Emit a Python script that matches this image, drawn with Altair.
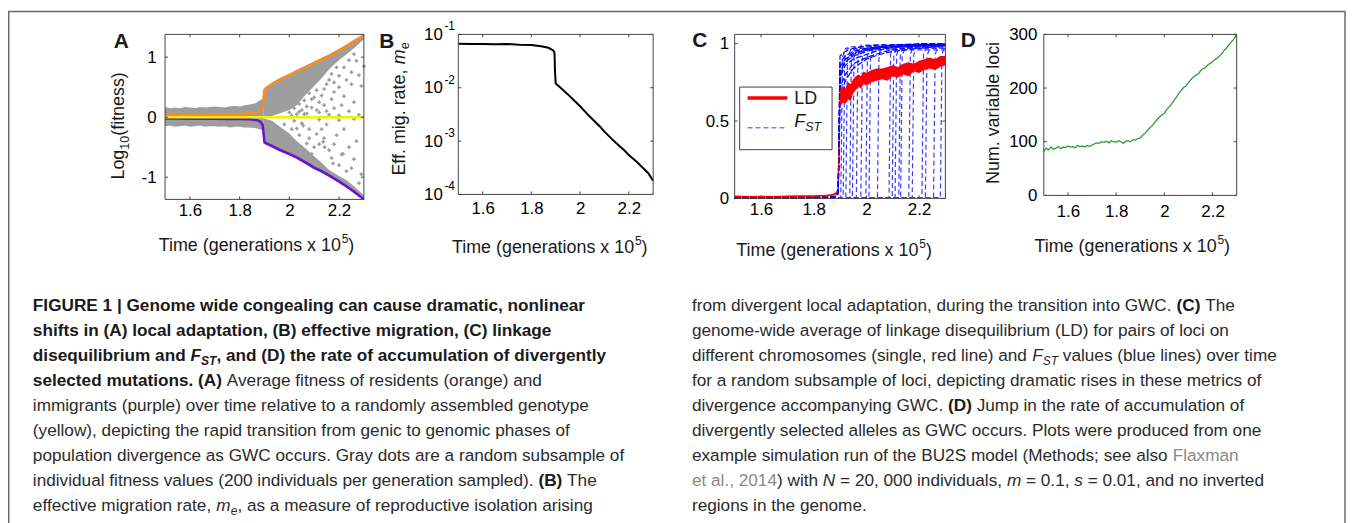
import altair as alt
import pandas as pd

FONT = "Liberation Sans"
W, H = 1347, 515
OFF = 8
TXT = "#1a1a1a"
TXT_R = "#2b2b2b"
FRAME = "#444444"

# ---------------- panel geometry (page px) ----------------
PA = dict(x0=166, x1=366, y0=33, y1=199)
PB = dict(x0=461, x1=657, y0=33, y1=194)
PC = dict(x0=739, x1=951, y0=33, y1=198)
PD = dict(x0=1050, x1=1244, y0=33, y1=195)

T_DOMAIN = [1.5, 2.3]
X_TICKS = [1.6, 1.8, 2.0, 2.2]

# ---------------- data: panel A ----------------
A_DOM = [-1.37, 1.38]
A_YTICKS = [-1, 0, 1]
A_LINE_T = [1.50, 1.55, 1.60, 1.65, 1.70, 1.75, 1.80, 1.84, 1.87, 1.885, 1.893, 1.897, 1.90,
            1.93, 1.96, 2.00, 2.03, 2.06, 2.10, 2.13, 2.16, 2.20, 2.23, 2.26, 2.30]
A_ORANGE = [0.03, 0.035, 0.03, 0.035, 0.04, 0.04, 0.05, 0.06, 0.08, 0.11, 0.16, 0.35, 0.46,
            0.55, 0.62, 0.70, 0.76, 0.82, 0.90, 0.96, 1.02, 1.11, 1.18, 1.26, 1.37]
A_PURPLE = [-0.02, -0.02, -0.025, -0.02, -0.025, -0.03, -0.03, -0.035, -0.05, -0.08, -0.13, -0.30, -0.42,
            -0.48, -0.54, -0.61, -0.67, -0.74, -0.84, -0.90, -0.97, -1.07, -1.15, -1.24, -1.37]
A_YELLOW_T = [1.50, 2.30]
A_YELLOW = [0.0, 0.0]
A_BAND_T = [1.50, 1.52, 1.54, 1.56, 1.58, 1.60, 1.62, 1.64, 1.66, 1.68, 1.70, 1.72, 1.74, 1.76,
            1.78, 1.80, 1.82, 1.84, 1.86, 1.87, 1.88, 1.89, 1.897]
A_BAND_HI = [0.17, 0.15, 0.16, 0.15, 0.17, 0.16, 0.15, 0.17, 0.16, 0.17, 0.18, 0.17, 0.16, 0.18,
             0.19, 0.18, 0.20, 0.21, 0.23, 0.25, 0.28, 0.30, 0.32]
A_BAND_LO = [-0.15, -0.14, -0.16, -0.15, -0.14, -0.16, -0.15, -0.14, -0.16, -0.15, -0.15, -0.16, -0.15, -0.17,
             -0.16, -0.16, -0.17, -0.17, -0.18, -0.19, -0.20, -0.21, -0.22]
A_WEDGE_T = [1.897, 1.90, 1.93, 1.96, 2.00, 2.03, 2.06, 2.10, 2.13, 2.16, 2.20, 2.23, 2.26, 2.30]
A_UP_HI = [0.40, 0.49, 0.58, 0.65, 0.73, 0.79, 0.85, 0.93, 0.99, 1.05, 1.14, 1.21, 1.29, 1.38]
A_UP_LO = [0.0, 0.0, 0.02, 0.06, 0.12, 0.20, 0.35, 0.52, 0.65, 0.80, 0.95, 1.05, 1.15, 1.30]
A_DN_HI = [0.0, -0.02, -0.06, -0.15, -0.27, -0.40, -0.50, -0.65, -0.76, -0.88, -0.98, -1.05, -1.15, -1.30]
A_DN_LO = [-0.36, -0.45, -0.51, -0.57, -0.64, -0.70, -0.77, -0.87, -0.93, -1.00, -1.10, -1.18, -1.27, -1.38]
A_DOT_T = [2.00, 2.02, 2.03, 2.04, 2.05, 2.06, 2.07, 2.08, 2.09, 2.10, 2.11, 2.12, 2.13, 2.14, 2.15,
           2.16, 2.17, 2.18, 2.19, 2.20, 2.22, 2.24, 2.25, 2.27, 2.29, 2.21, 2.15, 2.26, 2.06, 2.11,
           2.01, 2.04, 2.07, 2.09, 2.12, 2.14, 2.17, 2.18, 2.20, 2.23, 2.25, 2.28, 2.30, 2.22, 2.26,
           2.18, 2.24, 2.28, 2.16, 2.20,
           1.98, 2.01, 2.03, 2.04, 2.056, 2.07, 2.08, 2.09, 2.10, 2.12, 2.136, 2.142, 2.16, 2.17,
           2.176, 2.20, 2.216, 2.23, 2.25, 2.28, 2.13, 2.19, 2.24,
           2.02, 2.05, 2.08, 2.11, 2.14, 2.15, 2.18, 2.21, 2.22, 2.26, 2.27, 2.29, 2.20, 2.26, 2.12]
A_DOT_V = [0.08, 0.15, 0.05, 0.22, 0.12, 0.28, 0.18, 0.40, 0.30, 0.33, 0.45, 0.25, 0.36, 0.47, 0.55,
           0.62, 0.72, 0.58, 0.83, 0.69, 0.83, 0.95, 0.75, 0.94, 0.52, 0.20, 0.10, 1.05, 0.05, 0.12,
           0.03, 0.09, 0.06, 0.16, 0.08, 0.20, 0.30, 0.42, 0.50, 0.62, 0.55, 0.70, 0.85, 0.35, 0.25,
           0.15, 0.10, 0.04, 0.04, 0.03,
           -0.12, -0.20, -0.19, -0.30, -0.14, -0.44, -0.35, -0.61, -0.50, -0.45, -0.41, -0.50, -0.55, -0.68,
           -0.77, -0.80, -0.61, -0.90, -0.85, -1.10, -0.20, -0.30, -0.50,
           -0.06, -0.10, -0.20, -0.28, -0.35, -0.12, -0.45, -0.62, -0.20, -0.70, -0.40, -0.95, -0.05, -0.03, -0.04]

# ---------------- data: panel B ----------------
B_DOM = [1e-4, 1e-1]
B_YTICKS = [1e-4, 1e-3, 1e-2, 1e-1]
B_EXP = ["-4", "-3", "-2", "-1"]
B_T = [1.50, 1.55, 1.60, 1.65, 1.70, 1.75, 1.80, 1.84, 1.87, 1.89, 1.895, 1.897, 1.90, 1.92, 1.95,
       1.98, 2.00, 2.03, 2.05, 2.08, 2.10, 2.13, 2.15, 2.18, 2.20, 2.23, 2.25, 2.28, 2.30]
B_ME = [0.067, 0.066, 0.066, 0.065, 0.066, 0.064, 0.063, 0.060, 0.056, 0.050, 0.045, 0.020, 0.012, 0.010, 0.0075,
        0.0055, 0.0045, 0.0032, 0.0026, 0.0019, 0.0015, 0.0011, 0.0009, 0.00068, 0.00055, 0.00042, 0.00034,
        0.00025, 0.00018]

# ---------------- data: panel C ----------------
C_DOM = [0.0, 1.06]
C_YTICKS = [0, 0.5, 1]
C_LD_T = [1.50, 1.55, 1.60, 1.65, 1.70, 1.75, 1.80, 1.85, 1.87, 1.88, 1.89, 1.895, 1.90, 1.91, 1.92,
          1.93, 1.94, 1.95, 1.96, 1.97, 1.98, 1.99, 2.00, 2.02, 2.04, 2.06, 2.08, 2.10, 2.12, 2.14,
          2.16, 2.18, 2.20, 2.22, 2.24, 2.26, 2.28, 2.30]
C_LD_LO = [0.008, 0.007, 0.008, 0.007, 0.008, 0.009, 0.010, 0.012, 0.015, 0.020, 0.030, 0.20, 0.60, 0.62, 0.61,
           0.64, 0.63, 0.68, 0.70, 0.72, 0.71, 0.74, 0.73, 0.75, 0.76, 0.77, 0.76, 0.79, 0.78, 0.80,
           0.79, 0.82, 0.81, 0.83, 0.84, 0.83, 0.85, 0.86]
C_LD_HI = [0.018, 0.016, 0.017, 0.016, 0.018, 0.020, 0.021, 0.024, 0.028, 0.035, 0.05, 0.35, 0.70, 0.72, 0.71,
           0.75, 0.74, 0.77, 0.79, 0.80, 0.79, 0.82, 0.81, 0.83, 0.84, 0.84, 0.85, 0.86, 0.85, 0.87,
           0.88, 0.87, 0.89, 0.90, 0.91, 0.90, 0.92, 0.92]
C_EARLY_T = [1.50, 1.70, 1.88, 1.893, 1.897, 1.90, 1.92, 1.95, 2.00, 2.05, 2.10, 2.20, 2.30]
C_EARLY = [
    [0.004, 0.005, 0.008, 0.05, 0.50, 0.88, 0.92, 0.95, 0.97, 0.98, 0.99, 0.995, 0.995],
    [0.003, 0.004, 0.006, 0.04, 0.45, 0.82, 0.88, 0.92, 0.95, 0.97, 0.98, 0.99, 0.99],
    [0.005, 0.006, 0.010, 0.06, 0.40, 0.78, 0.86, 0.90, 0.93, 0.96, 0.975, 0.985, 0.99],
    [0.004, 0.005, 0.007, 0.05, 0.55, 0.92, 0.95, 0.97, 0.985, 0.99, 0.99, 1.0, 1.0],
    [0.003, 0.004, 0.006, 0.03, 0.50, 0.85, 0.90, 0.94, 0.96, 0.975, 0.98, 0.99, 0.99],
    [0.006, 0.007, 0.010, 0.05, 0.35, 0.72, 0.80, 0.87, 0.91, 0.94, 0.96, 0.98, 0.99],
    [0.004, 0.005, 0.008, 0.04, 0.45, 0.80, 0.90, 0.93, 0.96, 0.975, 0.985, 0.99, 0.995],
    [0.003, 0.004, 0.007, 0.03, 0.30, 0.65, 0.76, 0.84, 0.90, 0.93, 0.95, 0.97, 0.985],
]
C_LATE_JUMP = [1.906, 1.915, 1.925, 1.940, 1.950, 1.965, 1.982, 2.001, 2.013, 2.045, 2.089,
               2.101, 2.112, 2.126, 2.133, 2.164, 2.177, 2.214, 2.227, 2.258, 2.284]
C_LATE_TOP = [0.97, 0.98, 0.96, 0.98, 0.97, 0.99, 0.98, 0.99, 0.98, 0.99, 0.99,
              0.98, 0.99, 0.99, 0.98, 0.99, 0.99, 0.99, 0.98, 0.99, 0.99]

# ---------------- data: panel D ----------------
D_DOM = [0, 300]
D_YTICKS = [0, 100, 200, 300]
D_T = [1.50, 1.51, 1.52, 1.53, 1.54, 1.55, 1.56, 1.57, 1.58, 1.59,
       1.60, 1.61, 1.62, 1.63, 1.64, 1.65, 1.66, 1.67, 1.68, 1.69,
       1.70, 1.71, 1.72, 1.73, 1.74, 1.75, 1.76, 1.77, 1.78, 1.79,
       1.80, 1.81, 1.82, 1.83, 1.84, 1.85, 1.86, 1.87, 1.88, 1.89,
       1.90, 1.91, 1.92, 1.93, 1.94, 1.95, 1.96, 1.97, 1.98, 1.99,
       2.00, 2.01, 2.02, 2.03, 2.04, 2.05, 2.06, 2.07, 2.08, 2.09,
       2.10, 2.11, 2.12, 2.13, 2.14, 2.15, 2.16, 2.17, 2.18, 2.19,
       2.20, 2.21, 2.22, 2.23, 2.24, 2.25, 2.26, 2.27, 2.28, 2.29, 2.30]
D_V = [82, 88, 85, 90, 86, 88, 91, 87, 90, 89,
       92, 90, 91, 89, 93, 91, 92, 90, 93, 91,
       94, 96, 98, 97, 100, 99, 101, 98, 102, 100,
       99, 102, 100, 97, 101, 102, 100, 104, 103, 106,
       107, 112, 116, 121, 126, 130, 136, 141, 146, 150,
       153, 160, 165, 170, 177, 183, 190, 196, 201, 204,
       210, 216, 220, 224, 226, 232, 236, 238, 243, 246,
       249, 253, 256, 260, 265, 271, 276, 282, 287, 292, 300]

# ---------------- text metrics (Arial / Liberation Sans, 1/1000 em) ----------------
REG = {' ': 278, '!': 278, "'": 191, '(': 333, ')': 333, ',': 278, '-': 333, '.': 278, '/': 278,
       ':': 278, ';': 278, '=': 584, '|': 260, '?': 556}
BOLD = {' ': 278, '(': 333, ')': 333, ',': 278, '-': 333, '.': 278, ':': 333, ';': 333, '=': 584, '|': 280}
for d in '0123456789':
    REG[d] = 556
    BOLD[d] = 556
UP = dict(A=667, B=667, C=722, D=722, E=667, F=611, G=778, H=722, I=278, J=500, K=667, L=556, M=833,
          N=722, O=778, P=667, Q=778, R=722, S=667, T=611, U=722, V=667, W=944, X=667, Y=667, Z=611)
UPB = dict(UP, A=722, B=722, J=556, K=722, L=611)
LOW = dict(a=556, b=556, c=500, d=556, e=556, f=278, g=556, h=556, i=222, j=222, k=500, l=222, m=833,
           n=556, o=556, p=556, q=556, r=333, s=500, t=278, u=556, v=500, w=722, x=500, y=500, z=500)
LOWB = dict(a=556, b=611, c=556, d=611, e=556, f=333, g=611, h=611, i=278, j=278, k=556, l=278, m=889,
            n=611, o=611, p=611, q=611, r=389, s=556, t=333, u=611, v=556, w=778, x=556, y=556, z=500)
REG.update(UP); REG.update(LOW)
BOLD.update(UPB); BOLD.update(LOWB)


def tw(s, bold, size):
    tb = BOLD if bold else REG
    return sum(tb.get(c, 556) for c in s) * size / 1000.0


STYLES = {
    'r': dict(bold=False, italic=False, scale=1.0, dy=0.0),
    'b': dict(bold=True, italic=False, scale=1.0, dy=0.0, color=TXT),
    'i': dict(bold=False, italic=True, scale=1.0, dy=0.0),
    'bi': dict(bold=True, italic=True, scale=1.0, dy=0.0, color=TXT),
    'sub': dict(bold=False, italic=False, scale=0.7, dy=0.3),
    'isub': dict(bold=False, italic=True, scale=0.7, dy=0.3),
    'bisub': dict(bold=True, italic=True, scale=0.7, dy=0.3, color=TXT),
    'sup': dict(bold=False, italic=False, scale=0.67, dy=-0.42),
    'g': dict(bold=False, italic=False, scale=1.0, dy=0.0, color="#8a8a8a"),
}


def lay(segs, x, y, size, angle=0, anchor='left', color=TXT):
    items, cur = [], 0.0
    for st, s in segs:
        S = STYLES[st]
        fs = size * S['scale']
        lead = len(s) - len(s.lstrip(' '))
        items.append((cur + lead * tw(' ', S['bold'], fs), S, s.strip(), fs))
        cur += tw(s, S['bold'], fs)
    total = cur
    rows = []
    for off, S, s, fs in items:
        if not s:
            continue
        if angle == 0:
            start = x - total / 2 if anchor == 'center' else x
            px, py = start + off, y + S['dy'] * size
        else:
            base = y + total / 2 if anchor == 'center' else y
            px, py = x + S['dy'] * size, base - off
        rows.append(dict(x=px - OFF, y=py - OFF, text=s, fs=fs, bold=S['bold'], italic=S['italic'],
                         angle=angle, col=S.get('color', color)))
    return rows


def text_layers(rows):
    df = pd.DataFrame(rows)
    out = []
    for (bold, italic, angle), g in df.groupby(['bold', 'italic', 'angle']):
        mk = dict(font=FONT, align='left', baseline='middle',
                  fontWeight='bold' if bold else 'normal',
                  fontStyle='italic' if italic else 'normal')
        if angle:
            mk['angle'] = int(angle)
        out.append(alt.Chart(g.reset_index(drop=True)).mark_text(**mk).encode(
            x=alt.X('x:Q', scale=None, axis=None),
            y=alt.Y('y:Q', scale=None, axis=None),
            text='text:N',
            size=alt.Size('fs:Q', scale=None, legend=None),
            color=alt.Color('col:N', scale=None, legend=None)))
    return out


# ---------------- scale helpers ----------------
def X(p, field='t', axis=None):
    return alt.X(f'{field}:Q', axis=axis,
                 scale=alt.Scale(domain=T_DOMAIN, range=[p['x0'] - OFF, p['x1'] - OFF], nice=False, zero=False))


def Y(p, dom, field='v', log=False, axis=None):
    rng = [p['y1'] - OFF, p['y0'] - OFF]
    if log:
        sc = alt.Scale(type='log', domain=dom, range=rng, nice=False)
    else:
        sc = alt.Scale(domain=dom, range=rng, nice=False, zero=False)
    return alt.Y(f'{field}:Q', axis=axis, scale=sc)


def frame(p, dom, yticks, xpad, ypad, log=False, ylabel_expr=None):
    df = pd.DataFrame({'t': [T_DOMAIN[0]], 't2': [T_DOMAIN[1]], 'v': [dom[0]], 'v2': [dom[1]]})
    xa = alt.Axis(orient='bottom', offset=(p['y1'] - OFF) - H, values=X_TICKS, format='~g',
                  domain=False, ticks=False, tickSize=0, grid=False, labelPadding=xpad,
                  labelFont=FONT, labelFontSize=17, labelColor='black', title=None,
                  labelFlush=False, labelOverlap=False)
    yk = dict(orient='left', offset=-(p['x0'] - OFF), values=yticks, domain=False, ticks=False,
              tickSize=0, grid=False, labelPadding=ypad, labelFont=FONT, labelFontSize=17,
              labelColor='black', title=None, labelFlush=False, labelOverlap=False)
    yk['labelExpr'] = ylabel_expr if ylabel_expr else \
        "datum.value < 0 ? '-' + format(-datum.value, '~g') : format(datum.value, '~g')"
    ya = alt.Axis(**yk)
    box = alt.Chart(df).mark_rect(fillOpacity=0, stroke=FRAME, strokeWidth=1).encode(
        x=X(p, 't', xa), x2='t2:Q', y=Y(p, dom, 'v', log, ya), y2='v2:Q')
    TL = 3
    xt = pd.DataFrame({'t': X_TICKS})
    yt = pd.DataFrame({'v': yticks})
    rules = []
    for yy, yy2 in [(p['y1'] - OFF, p['y1'] - OFF - TL), (p['y0'] - OFF, p['y0'] - OFF + TL)]:
        rules.append(alt.Chart(xt).mark_rule(color=FRAME, strokeWidth=1).encode(
            x=X(p, 't'), y=alt.value(yy), y2=alt.value(yy2)))
    for xx, xx2 in [(p['x0'] - OFF, p['x0'] - OFF + TL), (p['x1'] - OFF, p['x1'] - OFF - TL)]:
        rules.append(alt.Chart(yt).mark_rule(color=FRAME, strokeWidth=1).encode(
            y=Y(p, dom, 'v', log), x=alt.value(xx), x2=alt.value(xx2)))
    return [box] + rules


layers = []

# ---------------- panel A ----------------
GRAY = "#9d9d9d"
dfa_band = pd.DataFrame({'t': A_BAND_T, 'lo': A_BAND_LO, 'hi': A_BAND_HI})
dfa_up = pd.DataFrame({'t': A_WEDGE_T, 'lo': A_UP_LO, 'hi': A_UP_HI})
dfa_dn = pd.DataFrame({'t': A_WEDGE_T, 'lo': A_DN_LO, 'hi': A_DN_HI})
for d in (dfa_band, dfa_up, dfa_dn):
    layers.append(alt.Chart(d).mark_area(color=GRAY, opacity=1).encode(
        x=X(PA), y=Y(PA, A_DOM, 'lo'), y2='hi:Q'))
layers.append(alt.Chart(pd.DataFrame({'t': A_DOT_T, 'v': A_DOT_V})).mark_point(
    shape='cross', filled=True, size=14, color=GRAY, opacity=1).encode(x=X(PA), y=Y(PA, A_DOM)))
layers.append(alt.Chart(pd.DataFrame({'t': A_LINE_T, 'v': A_ORANGE})).mark_line(
    color="#ff8c1a", strokeWidth=2.5).encode(x=X(PA), y=Y(PA, A_DOM)))
layers.append(alt.Chart(pd.DataFrame({'t': A_LINE_T, 'v': A_PURPLE})).mark_line(
    color="#6a10d8", strokeWidth=2.5).encode(x=X(PA), y=Y(PA, A_DOM)))
layers.append(alt.Chart(pd.DataFrame({'t': A_YELLOW_T, 'v': A_YELLOW})).mark_line(
    color="#f2f200", strokeWidth=2.5).encode(x=X(PA), y=Y(PA, A_DOM)))
layers += frame(PA, A_DOM, A_YTICKS, xpad=3, ypad=9)

# ---------------- panel B ----------------
layers.append(alt.Chart(pd.DataFrame({'t': B_T, 'v': B_ME})).mark_line(
    color="black", strokeWidth=2).encode(x=X(PB), y=Y(PB, B_DOM, log=True)))
layers += frame(PB, B_DOM, B_YTICKS, xpad=6, ypad=16, log=True, ylabel_expr="'10'")
layers.append(alt.Chart(pd.DataFrame({'v': B_YTICKS, 'lab': B_EXP})).mark_text(
    font=FONT, fontSize=12, align='left', baseline='middle', dy=-8, color='black').encode(
    y=Y(PB, B_DOM, log=True), x=alt.value(447 - OFF), text='lab:N'))

# ---------------- panel C ----------------
rows_e, rows_l = [], []
for k, vals in enumerate(C_EARLY):
    for t, v in zip(C_EARLY_T, vals):
        rows_e.append(dict(t=t, v=v, locus=f"e{k}"))
for k, (tj, top) in enumerate(zip(C_LATE_JUMP, C_LATE_TOP)):
    pts = [(1.50, 0.004), (tj - 0.003, 0.006), (tj + 0.003, top - 0.06), (tj + 0.015, top), (2.30, top)]
    for t, v in pts:
        rows_l.append(dict(t=t, v=v, locus=f"l{k}"))
layers.append(alt.Chart(pd.DataFrame(rows_l)).mark_line(color="#3c3cff", strokeWidth=1.2, strokeDash=[5, 3]).encode(
    x=X(PC), y=Y(PC, C_DOM), detail='locus:N'))
layers.append(alt.Chart(pd.DataFrame(rows_e)).mark_line(color="#0000ff", strokeWidth=1.2, strokeDash=[6, 2]).encode(
    x=X(PC), y=Y(PC, C_DOM), detail='locus:N'))
dfc_ld = pd.DataFrame({'t': C_LD_T, 'lo': C_LD_LO, 'hi': C_LD_HI})
layers.append(alt.Chart(dfc_ld).mark_area(color="#ff0000", opacity=1).encode(
    x=X(PC), y=Y(PC, C_DOM, 'lo'), y2='hi:Q'))
layers += frame(PC, C_DOM, C_YTICKS, xpad=3, ypad=6)
# legend box
one = pd.DataFrame({'a': [0]})
layers.append(alt.Chart(one).mark_rect(fill='white', stroke=FRAME, strokeWidth=1).encode(
    x=alt.value(744 - OFF), x2=alt.value(837 - OFF), y=alt.value(86 - OFF), y2=alt.value(149 - OFF)))
layers.append(alt.Chart(one).mark_rule(color="#ff0000", strokeWidth=3.5).encode(
    x=alt.value(752 - OFF), x2=alt.value(792 - OFF), y=alt.value(97 - OFF)))
layers.append(alt.Chart(one).mark_rule(color="#3c3cff", strokeWidth=1, strokeDash=[5, 3]).encode(
    x=alt.value(752 - OFF), x2=alt.value(792 - OFF), y=alt.value(127 - OFF)))

# ---------------- panel D ----------------
layers.append(alt.Chart(pd.DataFrame({'t': D_T, 'v': D_V})).mark_line(
    color="#2aa02a", strokeWidth=1.3).encode(x=X(PD), y=Y(PD, D_DOM)))
layers += frame(PD, D_DOM, D_YTICKS, xpad=8, ypad=7)

# ---------------- texts ----------------
T = []
for lab, cx, cy in [("A", 122, 41), ("B", 389, 41), ("C", 704, 40), ("D", 974, 40)]:
    T += lay([('b', lab)], cx, cy, 21, anchor='center')
for cx, cy in [(258, 246), (553, 248), (839, 251), (1139, 247)]:
    T += lay([('r', 'Time (generations x 10'), ('sup', '5'), ('r', ')')], cx, cy, 18, anchor='center')
T += lay([('r', 'Log'), ('sub', '10'), ('r', '(fitness)')], 120, 125, 18, angle=270, anchor='center')
T += lay([('r', 'Eff. mig. rate, '), ('i', 'm'), ('sub', 'e')], 402, 108, 18, angle=270, anchor='center')
T += lay([('r', 'Num. variable loci')], 1000, 112, 18, angle=270, anchor='center')
T += lay([('r', 'LD')], 799, 98, 18)
T += lay([('i', 'F'), ('isub', 'ST')], 799, 121, 18)

# caption
CAP = 17.3
Y0, DY = 306, 25.2
LEFT = [
    [('b', 'FIGURE 1 | Genome wide congealing can cause dramatic, nonlinear')],
    [('b', 'shifts in (A) local adaptation, (B) effective migration, (C) linkage')],
    [('b', 'disequilibrium and '), ('bi', 'F'), ('bisub', 'ST'), ('b', ', and (D) the rate of accumulation of divergently')],
    [('b', 'selected mutations. (A)'), ('r', ' Average fitness of residents (orange) and')],
    [('r', 'immigrants (purple) over time relative to a randomly assembled genotype')],
    [('r', '(yellow), depicting the rapid transition from genic to genomic phases of')],
    [('r', 'population divergence as GWC occurs. Gray dots are a random subsample of')],
    [('r', 'individual fitness values (200 individuals per generation sampled). '), ('b', '(B)'), ('r', ' The')],
    [('r', 'effective migration rate, '), ('i', 'm'), ('isub', 'e'), ('r', ', as a measure of reproductive isolation arising')],
]
RIGHT = [
    [('r', 'from divergent local adaptation, during the transition into GWC. '), ('b', '(C)'), ('r', ' The')],
    [('r', 'genome-wide average of linkage disequilibrium (LD) for pairs of loci on')],
    [('r', 'different chromosomes (single, red line) and '), ('i', 'F'), ('isub', 'ST'), ('r', ' values (blue lines) over time')],
    [('r', 'for a random subsample of loci, depicting dramatic rises in these metrics of')],
    [('r', 'divergence accompanying GWC. '), ('b', '(D)'), ('r', ' Jump in the rate of accumulation of')],
    [('r', 'divergently selected alleles as GWC occurs. Plots were produced from one')],
    [('r', 'example simulation run of the BU2S model (Methods; see also '), ('g', 'Flaxman')],
    [('g', 'et al., 2014'), ('r', ') with '), ('i', 'N'), ('r', ' = 20, 000 individuals, '), ('i', 'm'), ('r', ' = 0.1, '),
     ('i', 's'), ('r', ' = 0.01, and no inverted')],
    [('r', 'regions in the genome.')],
]
for k, segs in enumerate(LEFT):
    T += lay(segs, 33, Y0 + k * DY, CAP, color=TXT_R)
for k, segs in enumerate(RIGHT):
    T += lay(segs, 696, Y0 + k * DY, CAP, color=TXT_R)

layers += text_layers(T)

# outer figure frame
layers.append(alt.Chart(one).mark_rect(fillOpacity=0, stroke="#6a6a6a", strokeWidth=1.5).encode(
    x=alt.value(0.75), x2=alt.value(1345), y=alt.value(2), y2=alt.value(540)))

chart = alt.layer(*layers).resolve_scale(
    x='independent', y='independent'
).properties(
    width=W, height=H, padding=0,
    autosize=alt.AutoSizeParams(type='none'),
    background='white'
).configure_view(strokeWidth=0)

chart.save("out.html", embed_options={"renderer": "svg", "actions": False})
